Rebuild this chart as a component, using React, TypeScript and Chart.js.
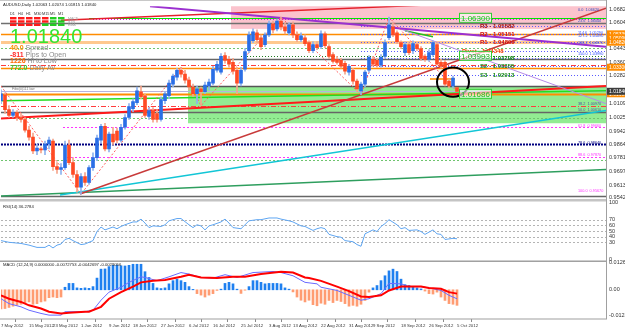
import React, { useEffect, useRef } from "react";
import { Chart, registerables } from "chart.js";
Chart.register(...registerables);

const FONT = "Liberation Sans";

// ---------- price candles (AUDUSD daily) ----------
const opens = [1.0127,1.0163,1.0073,1.0037,1.0055,1.0025,1.0013,0.9948,0.9906,0.9822,0.9834,0.9828,0.9864,0.9882,0.9727,0.9709,0.9721,0.9858,0.9751,0.9679,0.9602,0.9667,0.9631,0.9721,0.9781,0.9888,0.9972,0.9834,0.9924,0.9942,0.9888,0.9966,1.0025,1.0079,1.0115,1.0181,1.0157,1.0031,1.0067,1.0049,1.0013,1.0127,1.0157,1.0228,1.0270,1.0312,1.0288,1.0252,1.0210,1.0169,1.0199,1.0181,1.0216,1.0234,1.0312,1.0300,1.0401,1.0378,1.0360,1.0312,1.0234,1.0318,1.0431,1.0491,1.0539,1.0509,1.0467,1.0527,1.0593,1.0563,1.0610,1.0575,1.0539,1.0587,1.0527,1.0497,1.0509,1.0479,1.0431,1.0467,1.0455,1.0533,1.0455,1.0407,1.0378,1.0372,1.0354,1.0300,1.0312,1.0246,1.0187,1.0228,1.0312,1.0378,1.0372,1.0342,1.0396,1.0509,1.0575,1.0539,1.0479,1.0419,1.0467,1.0431,1.0467,1.0443,1.0396,1.0378,1.0407,1.0467,1.0360,1.0360,1.0246,1.0216,1.0206];
const highs = [1.0193,1.0175,1.0097,1.0073,1.0067,1.0049,1.0025,0.9972,0.9930,0.9864,0.9846,0.9882,0.9906,0.9894,0.9751,0.9745,0.9882,0.9888,0.9781,0.9703,0.9685,0.9691,0.9733,0.9810,0.9918,0.9984,0.9990,0.9936,0.9966,0.9960,0.9984,1.0043,1.0109,1.0139,1.0210,1.0216,1.0169,1.0085,1.0085,1.0073,1.0151,1.0181,1.0252,1.0288,1.0324,1.0330,1.0312,1.0270,1.0228,1.0216,1.0210,1.0240,1.0258,1.0336,1.0366,1.0413,1.0419,1.0396,1.0384,1.0330,1.0330,1.0443,1.0545,1.0563,1.0557,1.0527,1.0539,1.0610,1.0610,1.0622,1.0634,1.0599,1.0599,1.0605,1.0545,1.0539,1.0527,1.0491,1.0485,1.0485,1.0551,1.0545,1.0467,1.0419,1.0396,1.0384,1.0366,1.0348,1.0324,1.0258,1.0240,1.0312,1.0401,1.0396,1.0384,1.0407,1.0497,1.0634,1.0599,1.0551,1.0491,1.0485,1.0479,1.0491,1.0479,1.0455,1.0407,1.0437,1.0491,1.0479,1.0378,1.0372,1.0258,1.0276,1.0207];
const lows = [1.0109,1.0049,1.0025,1.0025,1.0007,0.9996,0.9936,0.9888,0.9805,0.9799,0.9810,0.9799,0.9834,0.9703,0.9685,0.9679,0.9709,0.9739,0.9661,0.9572,0.9560,0.9613,0.9619,0.9703,0.9763,0.9870,0.9822,0.9816,0.9858,0.9870,0.9876,0.9954,1.0013,1.0061,1.0103,1.0139,1.0025,1.0013,0.9996,0.9996,1.0002,1.0109,1.0139,1.0210,1.0252,1.0270,1.0234,1.0193,1.0151,1.0109,1.0097,1.0169,1.0193,1.0222,1.0300,1.0288,1.0354,1.0330,1.0288,1.0169,1.0216,1.0306,1.0419,1.0479,1.0479,1.0437,1.0455,1.0515,1.0539,1.0551,1.0557,1.0533,1.0527,1.0509,1.0485,1.0485,1.0461,1.0419,1.0419,1.0437,1.0443,1.0449,1.0384,1.0354,1.0348,1.0324,1.0288,1.0282,1.0228,1.0181,1.0163,1.0210,1.0300,1.0336,1.0330,1.0330,1.0384,1.0497,1.0515,1.0473,1.0443,1.0401,1.0407,1.0413,1.0431,1.0372,1.0366,1.0366,1.0396,1.0342,1.0324,1.0216,1.0204,1.0204,1.0182];
const closes = [1.0169,1.0073,1.0037,1.0055,1.0025,1.0013,0.9948,0.9906,0.9822,0.9840,0.9828,0.9864,0.9888,0.9727,0.9709,0.9721,0.9858,0.9751,0.9679,0.9602,0.9667,0.9631,0.9721,0.9781,0.9900,0.9972,0.9834,0.9924,0.9876,0.9888,0.9966,1.0025,1.0091,1.0121,1.0187,1.0151,1.0037,1.0067,1.0013,1.0013,1.0133,1.0169,1.0234,1.0276,1.0312,1.0288,1.0252,1.0210,1.0169,1.0199,1.0181,1.0222,1.0240,1.0318,1.0348,1.0396,1.0372,1.0348,1.0306,1.0234,1.0312,1.0425,1.0527,1.0545,1.0497,1.0455,1.0527,1.0593,1.0557,1.0610,1.0575,1.0551,1.0587,1.0527,1.0497,1.0521,1.0473,1.0431,1.0467,1.0449,1.0533,1.0461,1.0396,1.0366,1.0360,1.0336,1.0306,1.0336,1.0246,1.0199,1.0228,1.0300,1.0390,1.0348,1.0342,1.0390,1.0479,1.0587,1.0527,1.0485,1.0455,1.0467,1.0419,1.0473,1.0443,1.0384,1.0378,1.0419,1.0479,1.0348,1.0336,1.0228,1.0216,1.0264,1.0184];

// ---------- x axis date labels ----------
const dateTickIdx = [0,7,13,20,27,33,40,47,53,60,67,73,80,87,93,100,107,114];
const dateTickLabels = ["7 May 2012","15 May 2012","23 May 2012","1 Jun 2012","9 Jun 2012","18 Jun 2012","27 Jun 2012","6 Jul 2012","16 Jul 2012","25 Jul 2012","3 Aug 2012","13 Aug 2012","22 Aug 2012","31 Aug 2012","9 Sep 2012","18 Sep 2012","26 Sep 2012","5 Oct 2012"];

// ---------- price axis ticks ----------
const priceTicks = [1.0682,1.0604,1.0521,1.0443,1.0360,1.0282,1.0109,1.0025,0.9942,0.9864,0.9781,0.9697,0.9613,0.9542];

// ---------- RSI(14) ----------
const rsiIdx = [0,2,5,7,9,11,12,13,14,15,16,17,18,20,21,22,23,24,25,26,28,29,30,31,33,34,35,36,37,38,40,41,42,44,45,47,48,49,50,51,52,53,55,56,57,58,60,61,62,64,65,67,69,70,72,73,75,76,78,79,80,81,82,84,85,86,88,89,90,91,93,94,95,96,97,99,100,101,102,104,105,106,108,109,110,111,113,114];
const rsiVal = [33,30,28,25,21,21,25,20,25,27,35,37,33,26,27,30,33,49,57,52,57,54,58,61,66,66,71,64,56,59,58,61,68,72,72,61,56,61,59,52,59,61,66,71,64,56,54,61,68,70,70,73,73,71,68,66,59,58,51,54,56,54,44,40,39,33,31,26,23,45,52,49,58,63,70,61,54,56,51,52,49,44,52,45,44,35,37,36.28];
const rsiTicks = [0,30,40,50,60,70,100];
const rsiLevels = [30,40,50,60,70];

// ---------- MACD ----------
const macdHist = [-0.0090,-0.0088,-0.0083,-0.0077,-0.0072,-0.0068,-0.0065,-0.0057,-0.0068,-0.0065,-0.0057,-0.0053,-0.0037,-0.0034,-0.0037,-0.0034,0.0012,0.0030,0.0030,0.0009,0.0007,0.0009,0.0007,0.0015,0.0055,0.0097,0.0098,0.0109,0.0115,0.0116,0.0113,0.0112,0.0115,0.0120,0.0120,0.0120,0.0085,0.0058,0.0030,0.0009,0.0006,0.0009,0.0028,0.0043,0.0050,0.0043,0.0035,0.0015,0.0002,-0.0018,-0.0025,-0.0034,-0.0025,-0.0018,-0.0003,0.0003,0.0030,0.0035,0.0028,0.0003,-0.0017,-0.0002,0.0015,0.0043,0.0043,0.0035,0.0028,0.0030,0.0030,0.0030,0.0028,0.0009,0.0003,-0.0010,-0.0034,-0.0049,-0.0057,-0.0049,-0.0070,-0.0075,-0.0063,-0.0068,-0.0050,-0.0060,-0.0050,-0.0055,-0.0065,-0.0077,-0.0073,-0.0077,-0.0068,-0.0050,-0.0011,0.0009,0.0020,0.0043,0.0066,0.0089,0.0097,0.0086,0.0050,0.0024,0.0020,0.0015,0.0009,0.0004,-0.0006,-0.0018,-0.0020,-0.0011,-0.0034,-0.0050,-0.0065,-0.0068,-0.0073];
const macdIdx = [0,2,5,7,10,12,15,16,19,21,23,25,27,30,32,35,36,39,42,45,47,50,53,56,59,63,68,70,73,76,79,80,84,87,90,92,95,97,100,102,105,107,110,112,114];
const macdVal = [-0.0042,-0.0065,-0.0080,-0.0096,-0.0111,-0.0119,-0.0119,-0.0103,-0.0103,-0.0103,-0.0096,-0.0049,-0.0011,0.0012,0.0035,0.0061,0.0058,0.0043,0.0061,0.0081,0.0074,0.0058,0.0055,0.0071,0.0058,0.0081,0.0086,0.0081,0.0066,0.0035,0.0028,0.0012,-0.0003,-0.0026,-0.0049,-0.0042,-0.0018,0.0030,0.0028,0.0015,0.0015,0.0009,-0.0003,-0.0026,-0.0042];
const sigIdx = [0,2,5,7,10,12,15,17,21,22,25,27,30,33,35,38,41,45,47,50,54,58,61,65,70,73,76,77,80,84,87,90,92,95,97,100,102,105,107,110,112,114];
const sigVal = [-0.0026,-0.0042,-0.0057,-0.0073,-0.0088,-0.0103,-0.0111,-0.0108,-0.0103,-0.0103,-0.0080,-0.0042,-0.0011,0.0015,0.0035,0.0043,0.0046,0.0061,0.0071,0.0058,0.0055,0.0061,0.0061,0.0074,0.0085,0.0081,0.0058,0.0055,0.0042,0.0015,-0.0006,-0.0031,-0.0034,-0.0026,-0.0003,0.0015,0.0015,0.0015,0.0009,0.0005,-0.0011,-0.0018];
const macdTicks = [0.0126, 0, -0.0123];

// ---------- zigzag ----------
const zzIdx = [0,20,45,50,70,90,97,114];
const zzPrice = [1.0216,0.9560,1.0330,1.0097,1.0634,1.0163,1.0634,1.0182];

// ---------- trend lines ----------
const trendStartIdx = [37.25, 97.75, 15, 19.75, 14.75, 0, 0, 0, 101, 107.25];
const trendStartPrice = [1.0700, 1.0581, 1.0615, 0.9560, 0.9554, 0.9548, 1.0019, 1.0127, 1.0551, 1.0258];
const trendEndIdx = [151.25, 151.25, 105, 151.25, 151.25, 151.25, 151.25, 151.25, 108, 113.5];
const trendEndPrice = [1.0455, 1.0109, 1.0706, 1.0688, 1.0067, 0.9709, 1.0216, 1.0187, 1.0515, 1.0258];
const trendStyles = [
  { c: "#9b30d0", w: 2 },
  { c: "#b68ae8", w: 1 },
  { c: "#e4202a", w: 1.5 },
  { c: "#c83a3a", w: 1.5 },
  { c: "#12c6d6", w: 1.5 },
  { c: "#2e9e5e", w: 1.5 },
  { c: "#ff1a1a", w: 2 },
  { c: "#22dd22", w: 1.5 },
  { c: "#22c022", w: 1.5 },
  { c: "#ff8c00", w: 1.5 },
];

// ---------- horizontal levels ----------
const levelPrices = [1.0630,1.0622,1.0599,1.0533,1.0482,1.0449,1.03993,1.0378,1.0342,1.0324,1.0216,1.0187,1.0169,1.0097,1.0061,1.0019,0.9966,0.9864,0.9787,0.9769,0.9548];
const levelStartIdx = [22,23,0,0,0,0,60,0,0,0,0,0,0,0,0,0,15.5,0,16.5,0,0];
const levelStyles = [
  { c: "#00e600", w: 1.2, d: [] },
  { c: "#e600e6", w: 1, d: [1, 2] },
  { c: "#707070", w: 1.5, d: [] },
  { c: "#ff8c00", w: 1.5, d: [] },
  { c: "#ffc98f", w: 3, d: [] },
  { c: "#6fc46f", w: 1, d: [2, 2] },
  { c: "#1f7a1f", w: 1, d: [1, 2] },
  { c: "#666666", w: 1.5, d: [] },
  { c: "#ff3c3c", w: 1, d: [5, 2, 1, 2] },
  { c: "#ff8c00", w: 1.5, d: [] },
  { c: "#555555", w: 1.5, d: [] },
  { c: "#b8b4dc", w: 1, d: [] },
  { c: "#ff8c00", w: 2, d: [] },
  { c: "#ff3c3c", w: 1, d: [5, 2, 1, 2] },
  { c: "#666666", w: 1.5, d: [] },
  { c: "#6fc46f", w: 1, d: [2, 2] },
  { c: "#ff33ff", w: 1, d: [2, 2] },
  { c: "#000080", w: 2, d: [2, 1] },
  { c: "#ff33ff", w: 1, d: [2, 2] },
  { c: "#6fc46f", w: 1, d: [2, 2] },
  { c: "#666666", w: 1.5, d: [] },
];

// ---------- fibo labels near the right edge ----------
const fibLabelPrices = [1.0668, 1.0603, 1.0529, 1.0509, 1.0467, 1.0399, 1.0097, 1.0061, 0.9966, 0.9864, 0.9787, 0.9567];
const fibLabelTexts = ["0.0  1.06620", "23.6  1.06040", "114.6  1.05290", "127.2  1.05090", "138.2  1.04670", "150.0  1.03990", "38.2  1.00970", "50.0  1.00610", "61.8  0.99660", "78.6  0.98640", "88.6  0.97870", "100.0  0.95670"];
const fibLabelColors = ["#3050c0", "#3050c0", "#3050ff", "#3050ff", "#3050ff", "#3050ff", "#5050a0", "#5050a0", "#ff33ff", "#000080", "#ff33ff", "#ff33ff"];

// ---------- pivots ----------
const pivotNames = ["R3", "R2", "R1", "Pivot", "S1", "S2", "S3"];
const pivotPrices = [1.0581, 1.0533, 1.0485, 1.0431, 1.0384, 1.0336, 1.0282];
const pivotTexts = ["1.05582", "1.05151", "1.04809", "1.04348", "1.03798", "1.03355", "1.02913"];
const pivotColors = ["#a01010", "#d01010", "#d01010", "#ff4500", "#1a8a1a", "#1a8a1a", "#1a8a1a"];

// ---------- zones ----------
const zoneStartIdx = [57.5, 46.75];
const zoneTop = [1.0706, 1.0216];
const zoneBottom = [1.0563, 0.9990];
const zoneColors = ["#fbc3cd", "#92ec92"];

// ---------- green price labels ----------
const tagPrices = [1.063, 1.03993, 1.01686];

// ---------- axis price boxes ----------
const boxPrices = [1.0533, 1.0509, 1.0482, 1.0330, 1.0169, 1.0184];
const boxColors = ["#ff8c00", "#ff8c00", "#ff8c00", "#ff8c00", "#ff8c00", "#3c3c3c"];

// ---------- info panel ----------
const infoValues = ["40.0", "-811", "1226", "772.0"];
const infoNames = [" Spread", " Pips to Open", " Hi to Low", " Daily Av"];
const infoColors = ["#ff8c00", "#ff2a2a", "#ff6a00", "#33cc33"];
const tfNames = ["D1", "H4", "H1", "M30", "M15", "M5", "M1"];
const tfSignals = ["RRRRRGG", "RRRRRGG", "RRRRGGG"];

const overlay = {
  id: "overlay",
  beforeDatasetsDraw(chart: any) {
    const { ctx, chartArea } = chart;
    const x = chart.scales.x, y = chart.scales.y, yR = chart.scales.yR;
    const L = chartArea.left, R = chartArea.right;
    ctx.save();
    ctx.beginPath();
    ctx.rect(L, y.top, R - L, y.bottom - y.top - 1);
    ctx.clip();
    zoneStartIdx.forEach((s, k) => {
      const x0 = x.getPixelForValue(s);
      const t = y.getPixelForValue(zoneTop[k]);
      const b = y.getPixelForValue(zoneBottom[k]);
      ctx.fillStyle = zoneColors[k];
      ctx.fillRect(x0, t, R - x0, b - t);
    });
    levelPrices.forEach((p, k) => {
      const st = levelStyles[k];
      const yy = Math.round(y.getPixelForValue(p)) + 0.5;
      ctx.strokeStyle = st.c;
      ctx.lineWidth = st.w;
      ctx.setLineDash(st.d);
      ctx.beginPath();
      ctx.moveTo(x.getPixelForValue(levelStartIdx[k]), yy);
      ctx.lineTo(R, yy);
      ctx.stroke();
    });
    pivotPrices.forEach((p) => {
      const yy = Math.round(y.getPixelForValue(p)) + 0.5;
      ctx.strokeStyle = "#5a5aff";
      ctx.lineWidth = 1;
      ctx.setLineDash([1, 2]);
      ctx.beginPath();
      ctx.moveTo(x.getPixelForValue(90), yy);
      ctx.lineTo(R, yy);
      ctx.stroke();
    });
    ctx.setLineDash([]);
    ctx.restore();
    ctx.save();
    ctx.strokeStyle = "#b4b4b4";
    ctx.lineWidth = 1;
    ctx.setLineDash([2, 2]);
    rsiLevels.forEach((v) => {
      const yy = Math.round(yR.getPixelForValue(v)) + 0.5;
      ctx.beginPath();
      ctx.moveTo(L, yy);
      ctx.lineTo(R, yy);
      ctx.stroke();
    });
    ctx.restore();
  },
  afterDatasetsDraw(chart: any) {
    const { ctx, chartArea } = chart;
    const x = chart.scales.x, y = chart.scales.y, yR = chart.scales.yR, yM = chart.scales.yM;
    const R = chartArea.right;
    ctx.save();
    ctx.textBaseline = "alphabetic";
    const cx = x.getPixelForValue(113), cy = y.getPixelForValue(1.024);
    const rx = x.getPixelForValue(117) - cx, ry = y.getPixelForValue(1.024 - 0.0089) - cy;
    ctx.strokeStyle = "#000";
    ctx.lineWidth = 2;
    ctx.beginPath();
    ctx.ellipse(cx, cy, rx, ry, 0, 0, Math.PI * 2);
    ctx.stroke();

    ctx.fillStyle = "#222";
    ctx.font = `4.2px ${FONT}`;
    ctx.fillText("AUDUSD,Daily 1.02063 1.02074 1.01815 1.01840", 3, 6);

    ctx.font = `3.8px ${FONT}`;
    ctx.fillStyle = "#333";
    tfNames.forEach((n, c) => ctx.fillText(n, 10 + c * 8, 15));
    tfSignals.forEach((row, r) => {
      row.split("").forEach((s, c) => {
        ctx.fillStyle = s === "R" ? "#ff1a1a" : "#22cc22";
        ctx.fillRect(10 + c * 8, 17 + r * 3.3, 6.5, 2.4);
      });
    });
    ctx.fillStyle = "#999";
    ctx.font = `3.5px ${FONT}`;
    ["MACD", "STR", "EMA"].forEach((t, r) => ctx.fillText(t, 68, 19.5 + r * 3.3));

    ctx.fillStyle = "#33e633";
    ctx.font = `20px ${FONT}`;
    ctx.fillText("1.01840", 10, 43);

    infoValues.forEach((v, k) => {
      const yy = 50 + k * 6.6;
      ctx.font = `bold 7px ${FONT}`;
      ctx.fillStyle = infoColors[k];
      ctx.fillText(v, 10, yy);
      const w = ctx.measureText(v).width;
      ctx.fillStyle = "#8a8a8a";
      ctx.font = `7px ${FONT}`;
      ctx.fillText(infoNames[k], 10 + w, yy);
    });

    ctx.font = `3.5px ${FONT}`;
    ctx.fillStyle = "#777";
    ctx.fillText("Fibo(0)111 low", 12, 90);

    // fibo labels
    ctx.font = `3.8px ${FONT}`;
    fibLabelPrices.forEach((p, k) => {
      ctx.fillStyle = fibLabelColors[k];
      ctx.fillText(fibLabelTexts[k], 578, y.getPixelForValue(p) - 0.5);
    });

    ctx.font = `bold 6px ${FONT}`;
    pivotNames.forEach((n, k) => {
      const yy = y.getPixelForValue(pivotPrices[k]) + 2;
      ctx.fillStyle = pivotColors[k];
      const xx = n === "Pivot" ? 462 : 480;
      ctx.fillText(`${n} - ${pivotTexts[k]}`, xx, yy);
    });

    ctx.font = `8px ${FONT}`;
    tagPrices.forEach((p) => {
      const yy = y.getPixelForValue(p);
      const x0 = x.getPixelForValue(114.5);
      ctx.fillStyle = "rgba(255,255,255,0.6)";
      ctx.fillRect(x0, yy - 4.5, 32, 9);
      ctx.strokeStyle = "#33cc33";
      ctx.lineWidth = 1;
      ctx.strokeRect(x0 + 0.5, yy - 4.5, 32, 9);
      ctx.fillStyle = "#22bb22";
      ctx.fillText(p.toFixed(5), x0 + 2, yy + 3);
    });

    ctx.fillStyle = "#222";
    ctx.font = `4.2px ${FONT}`;
    ctx.fillText("RSI(14) 36.2784", 3, yR.top + 6.5);
    ctx.fillText("MACD (12,24,9) 0.0000000 -0.0072753 -0.0042697 -0.0029056", 3, yM.top + 5.5);

    ctx.fillStyle = "#c4c4c4";
    ctx.fillRect(0, y.bottom - 2, R + 1, 2.5);
    ctx.fillStyle = "#a0a0a0";
    ctx.fillRect(0, yR.bottom - 0.5, R + 1, 1.5);
    ctx.fillRect(0, yM.bottom - 0.5, R + 1, 1);
    ctx.fillRect(R, 0, 1, yM.bottom);
    ctx.fillStyle = "#c8c8c8";
    ctx.fillRect(0, 0, R, 1);

    ctx.font = `5px ${FONT}`;
    boxPrices.forEach((p, k) => {
      const yy = y.getPixelForValue(p);
      ctx.fillStyle = boxColors[k];
      ctx.fillRect(R + 1, yy - 3.5, 24, 7);
      ctx.fillStyle = "#fff";
      ctx.fillText(p.toFixed(5), R + 3, yy + 2);
    });
    ctx.restore();
  },
};

const yTickCommon = {
  autoSkip: false,
  padding: 3,
  color: "#333",
  font: { size: 5.5, family: FONT },
};

export default function App() {
  const ref = useRef<HTMLCanvasElement | null>(null);
  useEffect(() => {
    const canvas = ref.current;
    if (!canvas) return;
    Chart.defaults.font.family = FONT;
    const bodies = opens.map((o, i) => ({ x: i, y: [o, closes[i]] }));
    const wicks = lows.map((l, i) => ({ x: i, y: [l, highs[i]] }));
    const bull = opens.map((o, i) => closes[i] >= o);
    const trendSets = trendStartIdx.map((s, k) => ({
      type: "line",
      data: [
        { x: s, y: trendStartPrice[k] },
        { x: trendEndIdx[k], y: trendEndPrice[k] },
      ],
      borderColor: trendStyles[k].c,
      borderWidth: trendStyles[k].w,
      pointRadius: 0,
      yAxisID: "y",
      order: 4,
    }));
    const chart = new Chart(canvas, {
      type: "bar",
      data: {
        datasets: [
          {
            type: "bar",
            data: bodies,
            backgroundColor: bull.map((b) => (b ? "#2a6ee6" : "#ff4a24")),
            barThickness: 3,
            grouped: false,
            minBarLength: 1,
            yAxisID: "y",
            order: 0,
          },
          {
            type: "bar",
            data: wicks,
            backgroundColor: bull.map((b) => (b ? "#8fb2ee" : "#f6a58c")),
            barThickness: 1,
            grouped: false,
            yAxisID: "y",
            order: 1,
          },
          {
            type: "line",
            data: zzIdx.map((v, k) => ({ x: v, y: zzPrice[k] })),
            borderColor: "#ff5f5f",
            borderWidth: 1,
            borderDash: [2, 2],
            pointRadius: 0,
            yAxisID: "y",
            order: 3,
          },
          ...trendSets,
          {
            type: "line",
            data: rsiIdx.map((v, k) => ({ x: v, y: rsiVal[k] })),
            borderColor: "#5fa6f2",
            borderWidth: 1,
            pointRadius: 0,
            yAxisID: "yR",
            order: 0,
          },
          {
            type: "bar",
            data: macdHist.map((v, i) => ({ x: i, y: v })),
            backgroundColor: macdHist.map((v) => (v >= 0 ? "#1f80f0" : "#ff9c72")),
            barThickness: 2,
            grouped: false,
            yAxisID: "yM",
            order: 2,
          },
          {
            type: "line",
            data: macdIdx.map((v, k) => ({ x: v, y: macdVal[k] })),
            borderColor: "#6a6aff",
            borderWidth: 1,
            pointRadius: 0,
            yAxisID: "yM",
            order: 1,
          },
          {
            type: "line",
            data: sigIdx.map((v, k) => ({ x: v, y: sigVal[k] })),
            borderColor: "#ff0000",
            borderWidth: 2,
            pointRadius: 0,
            yAxisID: "yM",
            order: 0,
          },
        ],
      } as any,
      options: {
        responsive: false,
        animation: false,
        layout: { padding: { left: 1, top: 1, right: 0, bottom: 0 } },
        plugins: { legend: { display: false }, tooltip: { enabled: false } },
        scales: {
          x: {
            type: "linear",
            min: 0,
            max: 151.25,
            offset: false,
            grid: { display: true, drawOnChartArea: false, tickLength: 3, color: "#8a8a8a" },
            border: { display: false },
            ticks: {
              autoSkip: false,
              maxRotation: 0,
              align: "start",
              padding: 1,
              color: "#333",
              font: { size: 4.3, family: FONT },
              callback: (v: any) => {
                const k = dateTickIdx.indexOf(v);
                return k >= 0 ? dateTickLabels[k] : "";
              },
            },
            afterBuildTicks: (s: any) => {
              s.ticks = dateTickIdx.map((v) => ({ value: v }));
            },
            afterFit: (s: any) => {
              s.height = 15;
            },
          },
          y: {
            type: "linear",
            position: "right",
            stack: "panes",
            stackWeight: 198,
            min: 0.9518,
            max: 1.07,
            grid: { display: false, drawTicks: false, tickLength: 0 },
            border: { display: false },
            ticks: { ...yTickCommon, callback: (v: any) => Number(v).toFixed(5) },
            afterBuildTicks: (s: any) => {
              s.ticks = priceTicks.map((v) => ({ value: v }));
            },
            afterFit: (s: any) => {
              s.width = 19;
            },
          },
          yR: {
            type: "linear",
            position: "right",
            stack: "panes",
            stackWeight: 61,
            min: -3,
            max: 103,
            grid: { display: false, drawTicks: false, tickLength: 0 },
            border: { display: false },
            ticks: { ...yTickCommon },
            afterBuildTicks: (s: any) => {
              s.ticks = rsiTicks.map((v) => ({ value: v }));
            },
            afterFit: (s: any) => {
              s.width = 19;
            },
          },
          yM: {
            type: "linear",
            position: "right",
            stack: "panes",
            stackWeight: 59,
            min: -0.01372,
            max: 0.01354,
            grid: { display: false, drawTicks: false, tickLength: 0 },
            border: { display: false },
            ticks: {
              ...yTickCommon,
              callback: (v: any) => (Number(v) === 0 ? "0.00" : Number(v).toFixed(5)),
            },
            afterBuildTicks: (s: any) => {
              s.ticks = macdTicks.map((v) => ({ value: v }));
            },
            afterFit: (s: any) => {
              s.width = 19;
            },
          },
        },
      } as any,
      plugins: [overlay],
    });
    return () => chart.destroy();
  }, []);
  return (
    <div style={{ position: "fixed", left: 0, top: 0, width: 625, height: 334, background: "#fff" }}>
      <canvas ref={ref} width={625} height={334} style={{ display: "block" }} />
    </div>
  );
}
